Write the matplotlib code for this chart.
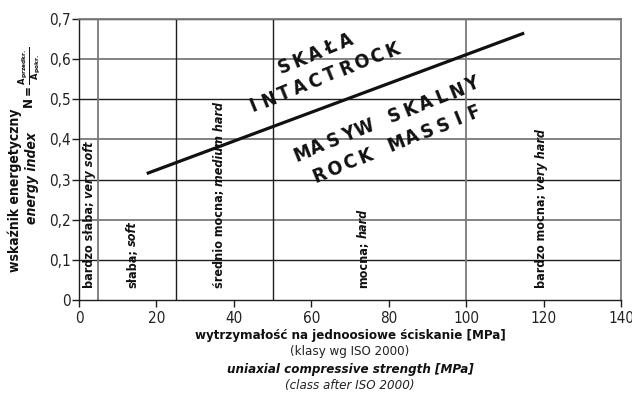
import numpy as np
import matplotlib
matplotlib.use("Agg")
import matplotlib.pyplot as plt
from matplotlib import font_manager

# --- data -----------------------------------------------------------------
class_bounds = [5, 25, 50, 100]                # ISO 2000 strength class limits [MPa]
class_label_x = [2.7, 13.8, 36.4, 73.4, 119.5]
class_pl = ["bardzo słaba;", "słaba;", "średnio mocna;", "mocna;", "bardzo mocna;"]
class_en = ["very soft", "soft", "medium hard", "hard", "very hard"]

boundary_x = [17.5, 115.0]                     # intact rock / rock massif boundary
boundary_y = [0.315, 0.665]

x_ticks = [0, 20, 40, 60, 80, 100, 120, 140]
y_ticks = [0, 0.1, 0.2, 0.3, 0.4, 0.5, 0.6, 0.7]
y_tick_labels = ["0", "0,1", "0,2", "0,3", "0,4", "0,5", "0,6", "0,7"]

zone_words = ["SKAŁA", "INTACTROCK", "MASYW SKALNY", "ROCK MASSIF"]
zone_x = [61.0, 63.0, 79.6, 82.1]
zone_y = [0.613, 0.553, 0.451, 0.389]

# --- fonts: prefer a narrow sans -----------------------------------------
fonts = font_manager.fontManager.ttflist
names = {f.name for f in fonts}
if "Liberation Sans Narrow" in names:
    FONT, STRETCH = "Liberation Sans Narrow", "normal"
elif any(f.name == "DejaVu Sans" and f.stretch in ("condensed", "semi-condensed")
         for f in fonts):
    FONT, STRETCH = "DejaVu Sans", "condensed"
else:
    FONT, STRETCH = "DejaVu Sans", "normal"
plt.rcParams["font.family"] = [FONT, "DejaVu Sans"]
plt.rcParams["font.stretch"] = STRETCH
plt.rcParams["mathtext.fontset"] = "custom"
plt.rcParams["mathtext.rm"] = FONT
plt.rcParams["mathtext.bf"] = FONT + ":bold"
plt.rcParams["mathtext.it"] = FONT + ":italic"

W, H = 632, 394
fig = plt.figure(figsize=(W / 100, H / 100), dpi=100)
ax = fig.add_axes([79 / W, 1 - 300 / H, (621 - 79) / W, (300 - 19) / H])
ax.set_xlim(0, 140)
ax.set_ylim(0, 0.7)

DARK = "#1e1e1e"
GREY = "#7a7a7a"

# horizontal grid
for i, yv in enumerate(y_ticks[1:]):
    col, lw = (GREY, 1.3) if i % 2 == 1 else (DARK, 1.0)
    ax.axhline(yv, color=col, lw=lw, zorder=1)

# class boundaries
for xv, col, lw in zip(class_bounds, [GREY, DARK, DARK, GREY], [1.3, 1.0, 1.0, 1.3]):
    ax.axvline(xv, color=col, lw=lw, zorder=1)

for side in ["top", "right"]:
    ax.spines[side].set_color(GREY)
    ax.spines[side].set_linewidth(1.3)
for side in ["left", "bottom"]:
    ax.spines[side].set_color(DARK)
    ax.spines[side].set_linewidth(1.0)

ax.set_xticks(x_ticks)
ax.set_xticklabels([str(v) for v in x_ticks])
ax.set_yticks(y_ticks)
ax.set_yticklabels(y_tick_labels)
ax.tick_params(axis="both", direction="out", length=5, width=1.0, color=DARK,
               labelsize=11, labelcolor="#222222")
ax.tick_params(axis="x", pad=3)
ax.tick_params(axis="y", pad=1.0)

# boundary line
ax.plot(boundary_x, boundary_y, color="#111111", lw=2.3, solid_capstyle="butt", zorder=3)

# class names, written upwards
for xv, pl, en in zip(class_label_x, class_pl, class_en):
    t = ax.text(xv, 0.03, pl, rotation=90, ha="center", va="bottom",
                fontsize=9, fontweight="bold", color="#111111", zorder=4)
    ax.annotate(en, xy=(0.5, 1.0), xycoords=t, xytext=(0, 2.5),
                textcoords="offset points", rotation=90, ha="center", va="bottom",
                fontsize=9, fontweight="bold", style="italic", color="#111111", zorder=4)


def spaced(word, x, y, angle=22.0, step=12.0, size=14):
    """Write a word with wide, even letter spacing along a slanted baseline."""
    a = np.deg2rad(angle)
    n = len(word)
    for i, ch in enumerate(word):
        if ch == " ":
            continue
        off = (i - (n - 1) / 2) * step
        ax.annotate(ch, xy=(x, y), xytext=(off * np.cos(a), off * np.sin(a)),
                    textcoords="offset points", rotation=angle, rotation_mode="anchor",
                    ha="center", va="center", fontsize=size, fontweight="bold",
                    color="#111111", zorder=5)


for w, xv, yv in zip(zone_words, zone_x, zone_y):
    spaced(w, xv, yv)

# y-axis title
fig.text(15 / W, 1 - 190 / H, "wskaźnik energetyczny", rotation=90, ha="center",
         va="center", fontsize=10, fontweight="bold", color="#111111")
fig.text(32 / W, 1 - 178 / H, "energy index", rotation=90, ha="center",
         va="center", fontsize=10, fontweight="bold", style="italic", color="#111111")
fig.text(30 / W, 1 - 78 / H, r"$\mathbf{N = \frac{A_{przedkr.}}{A_{pokr.}}}$",
         rotation=90, ha="center", va="center", fontsize=9.5, color="#111111")

# x-axis title
cx = 350 / W
fig.text(cx, 1 - 336 / H, "wytrzymałość na jednoosiowe ściskanie [MPa]", ha="center",
         va="center", fontsize=9.5, fontweight="bold", color="#111111")
fig.text(cx, 1 - 352 / H, "(klasy wg ISO 2000)", ha="center", va="center",
         fontsize=9.5, color="#222222")
fig.text(cx, 1 - 369 / H, "uniaxial compressive strength [MPa]", ha="center",
         va="center", fontsize=9.5, fontweight="bold", style="italic", color="#111111")
fig.text(cx, 1 - 385.5 / H, "(class after ISO 2000)", ha="center", va="center",
         fontsize=9.5, style="italic", color="#222222")

fig.savefig("out.png", dpi=100)
